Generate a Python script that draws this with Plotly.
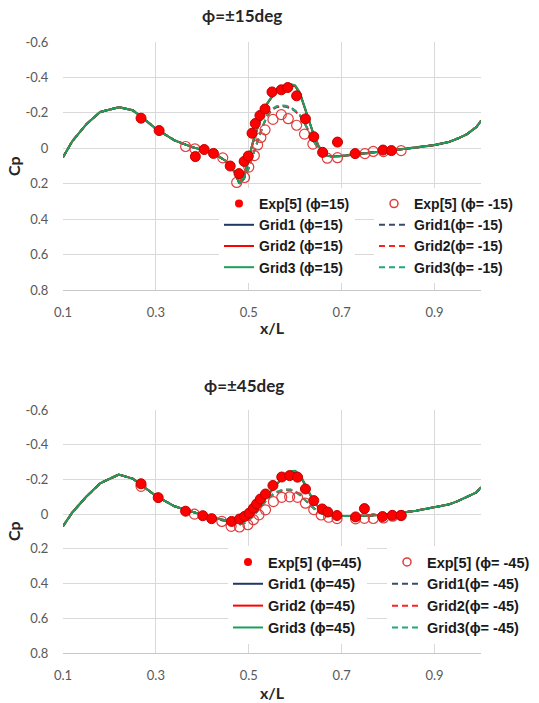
import plotly.graph_objects as go

# ---------------- data ----------------
# x/L stations of the CFD surface-pressure curves
x_cfd = [0.10, 0.12, 0.15, 0.18, 0.22, 0.25, 0.27, 0.30, 0.34, 0.38, 0.42, 0.45, 0.47, 0.48, 0.49,
         0.50, 0.51, 0.52, 0.53, 0.54, 0.55, 0.56, 0.57, 0.58, 0.59, 0.60, 0.61, 0.62, 0.63, 0.64,
         0.65, 0.66, 0.67, 0.68, 0.70, 0.74, 0.78, 0.82, 0.86, 0.90, 0.93, 0.95, 0.97, 0.99, 1.00]

# phi = +/-15 deg
cp15_g1 = [0.050, -0.040, -0.135, -0.205, -0.232, -0.215, -0.175, -0.110, -0.045, -0.005, 0.022, 0.070, 0.135, 0.200, 0.160,
           0.050, -0.045, -0.125, -0.190, -0.253, -0.290, -0.322, -0.342, -0.352, -0.357, -0.350, -0.310, -0.235, -0.155, -0.075,
           -0.015, 0.030, 0.042, 0.046, 0.043, 0.030, 0.018, 0.008, -0.004, -0.018, -0.035, -0.055, -0.080, -0.120, -0.155]
cp15_g2 = [0.050, -0.040, -0.135, -0.205, -0.232, -0.215, -0.175, -0.110, -0.045, -0.005, 0.022, 0.070, 0.135, 0.200, 0.160,
           0.050, -0.045, -0.125, -0.190, -0.254, -0.292, -0.325, -0.345, -0.355, -0.360, -0.352, -0.312, -0.236, -0.155, -0.075,
           -0.015, 0.030, 0.042, 0.046, 0.043, 0.030, 0.018, 0.008, -0.004, -0.018, -0.035, -0.055, -0.080, -0.120, -0.155]
cp15_g3 = [0.050, -0.040, -0.135, -0.205, -0.232, -0.215, -0.175, -0.110, -0.045, -0.005, 0.022, 0.070, 0.135, 0.200, 0.160,
           0.050, -0.045, -0.125, -0.190, -0.255, -0.295, -0.328, -0.348, -0.358, -0.363, -0.355, -0.315, -0.237, -0.155, -0.075,
           -0.015, 0.030, 0.042, 0.046, 0.043, 0.030, 0.018, 0.008, -0.004, -0.018, -0.035, -0.055, -0.080, -0.120, -0.155]
cpm15_g1 = [0.050, -0.040, -0.135, -0.205, -0.232, -0.215, -0.175, -0.110, -0.045, -0.005, 0.022, 0.070, 0.135, 0.200, 0.170,
            0.110, 0.030, -0.050, -0.122, -0.185, -0.216, -0.232, -0.236, -0.234, -0.227, -0.209, -0.185, -0.142, -0.090, -0.040,
            0.005, 0.030, 0.042, 0.046, 0.043, 0.030, 0.018, 0.008, -0.004, -0.018, -0.035, -0.055, -0.080, -0.120, -0.155]
cpm15_g2 = [0.050, -0.040, -0.135, -0.205, -0.232, -0.215, -0.175, -0.110, -0.045, -0.005, 0.022, 0.070, 0.135, 0.200, 0.170,
            0.110, 0.030, -0.050, -0.124, -0.188, -0.219, -0.235, -0.239, -0.237, -0.230, -0.211, -0.187, -0.143, -0.090, -0.040,
            0.005, 0.030, 0.042, 0.046, 0.043, 0.030, 0.018, 0.008, -0.004, -0.018, -0.035, -0.055, -0.080, -0.120, -0.155]
cpm15_g3 = [0.050, -0.040, -0.135, -0.205, -0.232, -0.215, -0.175, -0.110, -0.045, -0.005, 0.022, 0.070, 0.135, 0.200, 0.170,
            0.110, 0.030, -0.050, -0.125, -0.190, -0.222, -0.238, -0.242, -0.240, -0.232, -0.213, -0.188, -0.144, -0.090, -0.040,
            0.005, 0.030, 0.042, 0.046, 0.043, 0.030, 0.018, 0.008, -0.004, -0.018, -0.035, -0.055, -0.080, -0.120, -0.155]

exp15_x = [0.268, 0.307, 0.385, 0.404, 0.424, 0.460, 0.479, 0.490, 0.499, 0.507, 0.514, 0.524, 0.535, 0.550,
           0.570, 0.584, 0.603, 0.622, 0.640, 0.659, 0.691, 0.729, 0.789, 0.807]
exp15_cp = [-0.170, -0.100, 0.047, 0.007, 0.029, 0.100, 0.143, 0.074, 0.044, -0.085, -0.140, -0.185, -0.222, -0.318,
            -0.330, -0.343, -0.296, -0.166, -0.065, 0.023, -0.035, 0.030, 0.010, 0.013]
expm15_x = [0.364, 0.384, 0.444, 0.474, 0.491, 0.500, 0.512, 0.519, 0.526, 0.535, 0.552, 0.570, 0.585, 0.603,
            0.620, 0.638, 0.669, 0.691, 0.750, 0.768, 0.790, 0.828]
expm15_cp = [-0.010, 0.003, 0.054, 0.193, 0.165, 0.106, 0.041, -0.019, -0.061, -0.104, -0.163, -0.190, -0.167, -0.130,
             -0.080, -0.024, 0.056, 0.053, 0.030, 0.018, 0.019, 0.013]

# phi = +/-45 deg
cp45_g1 = [0.070, -0.010, -0.100, -0.178, -0.228, -0.205, -0.165, -0.105, -0.045, -0.012, 0.020, 0.035, 0.040, 0.042, 0.036,
           0.020, -0.005, -0.035, -0.070, -0.106, -0.140, -0.172, -0.200, -0.224, -0.240, -0.243, -0.225, -0.176, -0.120, -0.072,
           -0.042, -0.020, -0.007, 0.003, 0.010, 0.010, 0.005, -0.005, -0.020, -0.040, -0.055, -0.075, -0.098, -0.125, -0.155]
cp45_g2 = [0.070, -0.010, -0.100, -0.178, -0.228, -0.205, -0.165, -0.105, -0.045, -0.012, 0.020, 0.035, 0.040, 0.042, 0.036,
           0.020, -0.005, -0.035, -0.070, -0.107, -0.141, -0.174, -0.203, -0.227, -0.244, -0.247, -0.228, -0.177, -0.120, -0.072,
           -0.042, -0.020, -0.007, 0.003, 0.010, 0.010, 0.005, -0.005, -0.020, -0.040, -0.055, -0.075, -0.098, -0.125, -0.155]
cp45_g3 = [0.070, -0.010, -0.100, -0.178, -0.228, -0.205, -0.165, -0.105, -0.045, -0.012, 0.020, 0.035, 0.040, 0.042, 0.036,
           0.020, -0.005, -0.035, -0.070, -0.107, -0.142, -0.176, -0.205, -0.230, -0.247, -0.250, -0.230, -0.178, -0.120, -0.072,
           -0.042, -0.020, -0.007, 0.003, 0.010, 0.010, 0.005, -0.005, -0.020, -0.040, -0.055, -0.075, -0.098, -0.125, -0.155]
cpm45_g1 = [0.070, -0.010, -0.100, -0.178, -0.228, -0.205, -0.165, -0.105, -0.045, -0.012, 0.020, 0.040, 0.055, 0.060, 0.052,
            0.035, 0.010, -0.020, -0.054, -0.086, -0.109, -0.125, -0.135, -0.139, -0.139, -0.129, -0.110, -0.084, -0.058, -0.032,
            -0.012, 0.000, 0.008, 0.011, 0.012, 0.010, 0.005, -0.005, -0.020, -0.040, -0.055, -0.075, -0.098, -0.125, -0.155]
cpm45_g2 = [0.070, -0.010, -0.100, -0.178, -0.228, -0.205, -0.165, -0.105, -0.045, -0.012, 0.020, 0.040, 0.055, 0.060, 0.052,
            0.035, 0.010, -0.020, -0.055, -0.087, -0.110, -0.126, -0.136, -0.140, -0.140, -0.130, -0.111, -0.085, -0.058, -0.032,
            -0.012, 0.000, 0.008, 0.011, 0.012, 0.010, 0.005, -0.005, -0.020, -0.040, -0.055, -0.075, -0.098, -0.125, -0.155]
cpm45_g3 = [0.070, -0.010, -0.100, -0.178, -0.228, -0.205, -0.165, -0.105, -0.045, -0.012, 0.020, 0.040, 0.055, 0.060, 0.052,
            0.035, 0.010, -0.020, -0.055, -0.088, -0.112, -0.128, -0.138, -0.142, -0.142, -0.132, -0.112, -0.085, -0.058, -0.032,
            -0.012, 0.000, 0.008, 0.011, 0.012, 0.010, 0.005, -0.005, -0.020, -0.040, -0.055, -0.075, -0.098, -0.125, -0.155]

exp45_x = [0.268, 0.305, 0.364, 0.401, 0.420, 0.463, 0.480, 0.491, 0.501, 0.510, 0.517, 0.525, 0.536, 0.552,
           0.571, 0.588, 0.605, 0.622, 0.640, 0.658, 0.670, 0.690, 0.730, 0.749, 0.788, 0.809, 0.828]
exp45_cp = [-0.175, -0.095, -0.017, 0.009, 0.026, 0.042, 0.028, 0.013, -0.006, -0.034, -0.059, -0.087, -0.116, -0.165,
            -0.214, -0.222, -0.213, -0.145, -0.078, -0.030, -0.012, 0.008, 0.016, -0.032, 0.014, 0.007, 0.007]
expm45_x = [0.268, 0.383, 0.442, 0.462, 0.480, 0.498, 0.510, 0.522, 0.536, 0.553, 0.571, 0.588, 0.605, 0.622,
            0.640, 0.656, 0.672, 0.690, 0.730, 0.749, 0.768, 0.790, 0.810, 0.828]
expm45_cp = [-0.160, 0.000, 0.042, 0.070, 0.074, 0.061, 0.032, 0.004, -0.025, -0.072, -0.097, -0.100, -0.097, -0.063,
             -0.026, 0.005, 0.018, 0.026, 0.027, 0.024, 0.025, 0.022, 0.012, 0.008]

x_tickvals = [0.1, 0.3, 0.5, 0.7, 0.9]
x_ticktext = ["0.1", "0.3", "0.5", "0.7", "0.9"]
y_tickvals = [-0.6, -0.4, -0.2, 0.0, 0.2, 0.4, 0.6, 0.8]
y_ticktext = ["-0.6", "-0.4", "-0.2", "0", "0.2", "0.4", "0.6", "0.8"]

panel_titles = ["ϕ=±15deg", "ϕ=±45deg"]

# ---------------- styling ----------------
GRID_COLORS = {"Grid1": "#1f3864", "Grid2": "#ff0000", "Grid3": "#1aa05a"}
DASHED_COLORS = {"Grid1": "#3b4a6b", "Grid2": "#ff2020", "Grid3": "#22a878"}
EXP_FILL = "#ff0000"
EXP_EDGE = "#c00000"
EXP_OPEN = "#e03c3c"

fig = go.Figure()

panels = [
    dict(ang="15", xa="x", ya="y", legs=("legend", "legend2"),
         pos={"Grid1": cp15_g1, "Grid2": cp15_g2, "Grid3": cp15_g3},
         neg={"Grid1": cpm15_g1, "Grid2": cpm15_g2, "Grid3": cpm15_g3},
         exp=(exp15_x, exp15_cp), expn=(expm15_x, expm15_cp)),
    dict(ang="45", xa="x2", ya="y2", legs=("legend3", "legend4"),
         pos={"Grid1": cp45_g1, "Grid2": cp45_g2, "Grid3": cp45_g3},
         neg={"Grid1": cpm45_g1, "Grid2": cpm45_g2, "Grid3": cpm45_g3},
         exp=(exp45_x, exp45_cp), expn=(expm45_x, expm45_cp)),
]

for p in panels:
    leg_pos, leg_neg = p["legs"]
    # CFD curves: positive roll angle solid, negative roll angle dashed
    for rank, g in enumerate(["Grid1", "Grid2", "Grid3"], start=2):
        fig.add_trace(go.Scatter(
            x=x_cfd, y=p["neg"][g], mode="lines", xaxis=p["xa"], yaxis=p["ya"],
            line=dict(color=DASHED_COLORS[g], width=2, dash="6px,4px"),
            name=f"{g}(ϕ= -{p['ang']})", legend=leg_neg, legendrank=rank))
    for rank, g in enumerate(["Grid1", "Grid2", "Grid3"], start=2):
        fig.add_trace(go.Scatter(
            x=x_cfd, y=p["pos"][g], mode="lines", xaxis=p["xa"], yaxis=p["ya"],
            line=dict(color=GRID_COLORS[g], width=2),
            name=f"{g} (ϕ={p['ang']})", legend=leg_pos, legendrank=rank))
    # experiments
    fig.add_trace(go.Scatter(
        x=p["expn"][0], y=p["expn"][1], mode="markers", xaxis=p["xa"], yaxis=p["ya"],
        marker=dict(symbol="circle-open", size=10, color=EXP_OPEN, line=dict(width=1.2)),
        showlegend=False))
    fig.add_trace(go.Scatter(
        x=p["exp"][0], y=p["exp"][1], mode="markers", xaxis=p["xa"], yaxis=p["ya"],
        marker=dict(symbol="circle", size=10, color=EXP_FILL, line=dict(width=1, color=EXP_EDGE)),
        showlegend=False))
    # legend keys for the experiments (smaller symbols)
    fig.add_trace(go.Scatter(
        x=[None], y=[None], mode="markers", xaxis=p["xa"], yaxis=p["ya"],
        marker=dict(symbol="circle", size=8, color=EXP_FILL),
        name=f"Exp[5] (ϕ={p['ang']})", legend=leg_pos, legendrank=1))
    fig.add_trace(go.Scatter(
        x=[None], y=[None], mode="markers", xaxis=p["xa"], yaxis=p["ya"],
        marker=dict(symbol="circle-open", size=8, color=EXP_OPEN, line=dict(width=1.5)),
        name=f"Exp[5] (ϕ= -{p['ang']})", legend=leg_neg, legendrank=1))

# ---------------- layout ----------------
W, H = 539, 703
ML, MR, MT, MB = 63, 58, 42, 50
plot_h = H - MT - MB
plot_w = W - ML - MR


def py(v):
    """pixel row -> paper y"""
    return (H - MB - v) / plot_h


def px(v):
    """pixel column -> paper x"""
    return (v - ML) / plot_w


tick_font = dict(family="Lato, sans-serif", size=13, color="#595959")
xaxis_common = dict(range=[0.1, 1.0], tickvals=x_tickvals, ticktext=x_ticktext,
                    showgrid=True, gridcolor="#d9d9d9", gridwidth=1, zeroline=False,
                    showline=True, linecolor="#c8c8c8", linewidth=1,
                    ticks="outside", ticklen=10, tickcolor="rgba(0,0,0,0)",
                    tickfont=tick_font, fixedrange=True)
yaxis_common = dict(range=[0.8, -0.6], tickvals=y_tickvals, ticktext=y_ticktext,
                    showgrid=True, gridcolor="#d9d9d9", gridwidth=1, zeroline=False,
                    showline=False, ticks="outside", ticklen=11, tickcolor="rgba(0,0,0,0)",
                    tickfont=tick_font, fixedrange=True)

top_dom = [py(290), 1.0]
bot_dom = [0.0, py(410)]

leg_font_top = dict(family="Liberation Sans, Arial, sans-serif", size=14, color="#1a1a1a", weight="bold")
leg_font_bot = dict(family="Liberation Sans, Arial, sans-serif", size=14.5, color="#1a1a1a", weight="bold")


def legend_box(x, y, font):
    return dict(x=x, y=y, xanchor="left", yanchor="top", xref="paper", yref="paper",
                bgcolor="rgba(255,255,255,1)", borderwidth=0, font=font,
                orientation="v", itemwidth=30, tracegroupgap=0)


title_font = dict(family="Lato, sans-serif", size=17, color="#262626", weight="bold")
axis_title_font = dict(family="Lato, sans-serif", size=16, color="#262626", weight="bold")

annotations = [
    dict(text=panel_titles[0], x=px(242), y=py(15), xref="paper", yref="paper",
         showarrow=False, font=title_font, xanchor="center", yanchor="middle"),
    dict(text=panel_titles[1], x=px(244), y=py(385), xref="paper", yref="paper",
         showarrow=False, font=title_font, xanchor="center", yanchor="middle"),
    dict(text="Cp", x=px(13), y=py(166), xref="paper", yref="paper", textangle=-90,
         showarrow=False, font=axis_title_font, xanchor="center", yanchor="middle"),
    dict(text="Cp", x=px(13), y=py(531), xref="paper", yref="paper", textangle=-90,
         showarrow=False, font=axis_title_font, xanchor="center", yanchor="middle"),
    dict(text="x/L", x=0.5, y=py(327), xref="paper", yref="paper",
         showarrow=False, font=axis_title_font, xanchor="center", yanchor="middle"),
    dict(text="x/L", x=0.5, y=py(692), xref="paper", yref="paper",
         showarrow=False, font=axis_title_font, xanchor="center", yanchor="middle"),
]

# white panels behind the legends so gridlines do not show between the columns
shapes = [
    dict(type="rect", xref="paper", yref="paper", x0=px(217), x1=px(530), y0=py(281), y1=py(189),
         fillcolor="white", line=dict(width=0), layer="between"),
    dict(type="rect", xref="paper", yref="paper", x0=px(227), x1=px(539), y0=py(640), y1=py(546),
         fillcolor="white", line=dict(width=0), layer="between"),
]

fig.update_layout(
    width=W, height=H,
    margin=dict(l=ML, r=MR, t=MT, b=MB, autoexpand=False),
    paper_bgcolor="white", plot_bgcolor="white",
    xaxis=dict(domain=[0, 1], anchor="y", **xaxis_common),
    yaxis=dict(domain=top_dom, anchor="x", **yaxis_common),
    xaxis2=dict(domain=[0, 1], anchor="y2", **xaxis_common),
    yaxis2=dict(domain=bot_dom, anchor="x2", **yaxis_common),
    legend=legend_box(px(219), py(188), leg_font_top),
    legend2=legend_box(px(374), py(188), leg_font_top),
    legend3=legend_box(px(228), py(546), leg_font_bot),
    legend4=legend_box(px(387), py(546), leg_font_bot),
    annotations=annotations,
    shapes=shapes,
    showlegend=True,
)

fig.write_html("out.html")
